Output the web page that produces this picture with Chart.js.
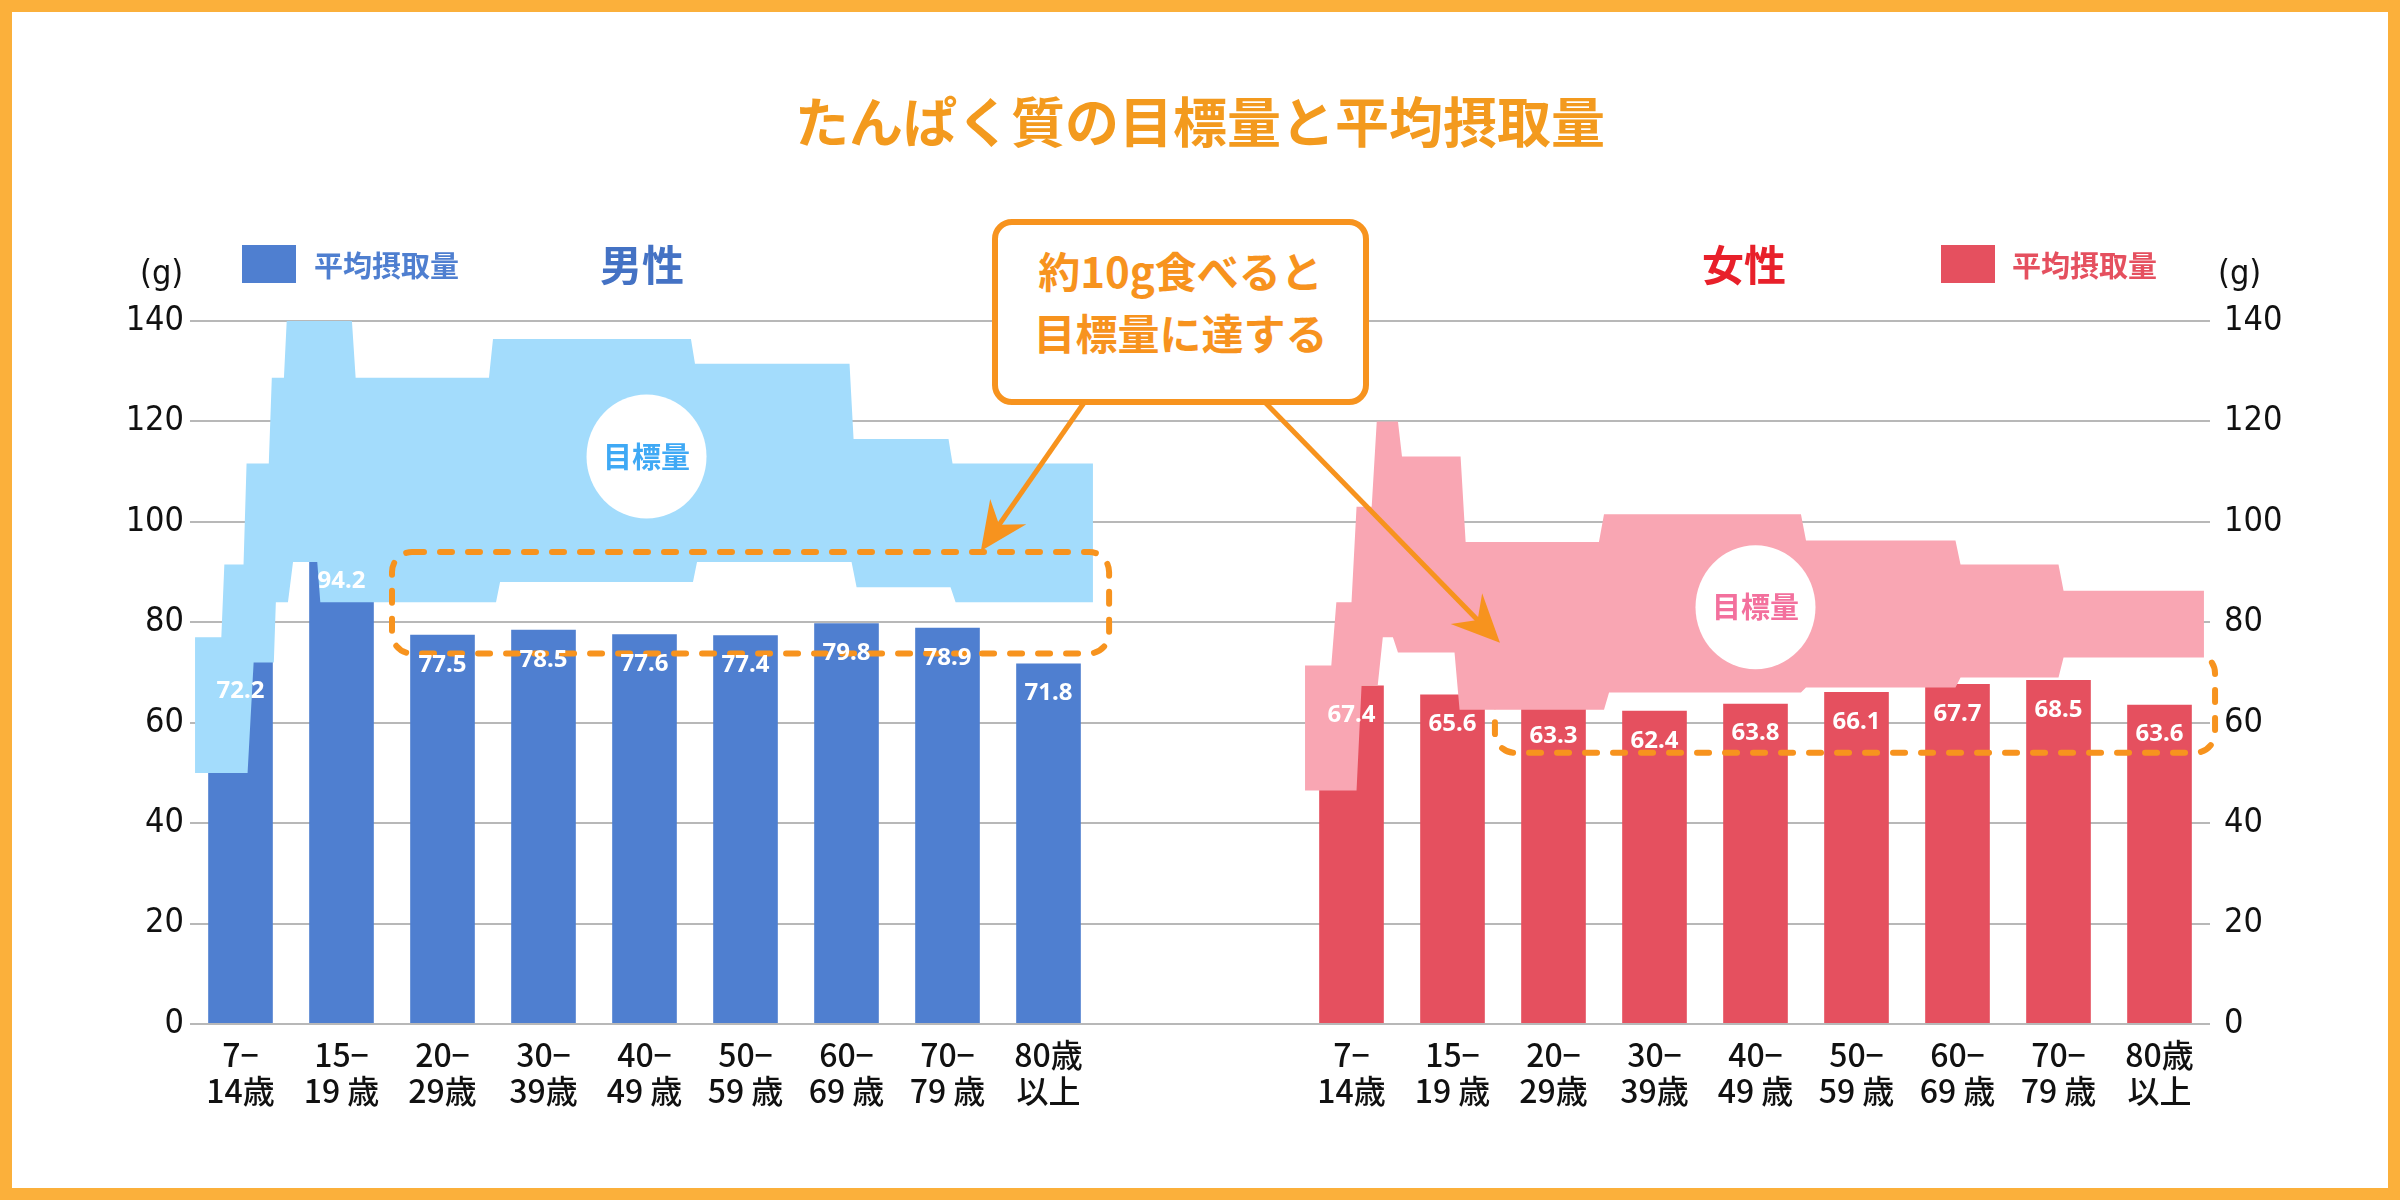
<!DOCTYPE html>
<html lang="ja">
<head>
<meta charset="UTF-8">
<title>たんぱく質の目標量と平均摂取量</title>
<script src="https://cdn.jsdelivr.net/npm/chart.js"></script>
<style>
  html, body { margin: 0; padding: 0; background: #fff; }
  body { width: 2400px; height: 1200px; position: relative; overflow: hidden;
         font-family: "Noto Sans CJK JP", "Noto Sans", sans-serif; }
  #frame { position: absolute; inset: 0; border: 12px solid #fbb03b; box-sizing: border-box; pointer-events: none; }
  canvas { position: absolute; left: 0; top: 0; }
  .t { position: absolute; white-space: nowrap; font-weight: 700; }
  #title { left: 0; width: 2400px; top: 80px; text-align: center; font-size: 54px; color: #f39a1e; }
  .unit { font-family: "DejaVu Sans Condensed", sans-serif; font-weight: 400; font-size: 34px; color: #111; top: 252px; }
  .sq { position: absolute; width: 54px; height: 38px; top: 245px; }
  .leg { font-size: 29px; top: 243px; }
  .sex { font-size: 42px; top: 232px; }
  #callout { position: absolute; left: 992px; top: 219px; width: 365px; height: 160px; border: 6px solid #f7931e;
             border-radius: 20px; background: #fff; color: #f7931e; font-weight: 700; font-size: 42px;
             text-align: center; line-height: 62px; padding-top: 14px; box-sizing: content-box; }
</style>
</head>
<body>
<canvas id="c" width="2400" height="1200"></canvas>
<div id="frame"></div>
<div class="t" id="title">たんぱく質の目標量と平均摂取量</div>
<div class="t unit" style="left:140px">(g)</div>
<div class="t unit" style="left:2218px">(g)</div>
<div class="sq" style="left:242px;background:#4f7fd0"></div>
<div class="t leg" style="left:314px;color:#4f7fd0">平均摂取量</div>
<div class="t sex" style="left:600px;color:#4472c4">男性</div>
<div class="t sex" style="left:1702px;color:#e8202a">女性</div>
<div class="sq" style="left:1941px;background:#e5505f"></div>
<div class="t leg" style="left:2012px;color:#e5505f">平均摂取量</div>
<div id="callout">約10g食べると<br>目標量に達する</div>
<script>
const ageLabels = [['7−','14歳'],['15−','19 歳'],['20−','29歳'],['30−','39歳'],['40−','49 歳'],
                   ['50−','59 歳'],['60−','69 歳'],['70−','79 歳'],['80歳','以上']];
const maleIntake   = [72.2, 94.2, 77.5, 78.5, 77.6, 77.4, 79.8, 78.9, 71.8];
const femaleIntake = [67.4, 65.6, 63.3, 62.4, 63.8, 66.1, 67.7, 68.5, 63.6];
const yTicks = [0, 20, 40, 60, 80, 100, 120, 140];

// target range steps: [from, to, value] in category units
const maleTop = [[-0.45,-0.19,77],[-0.16,0.03,91.5],[0.06,0.28,111.6],[0.31,0.43,128.7],[0.46,1.1,141],
                 [1.14,2.46,128.7],[2.5,4.46,136.4],[4.5,6.03,131.5],[6.07,7.01,116.5],[7.05,8.44,111.6]];
const maleBottom = [[-0.45,0.07,50],[0.13,0.33,72],[0.35,0.47,84],[0.52,0.76,92],[0.79,2.53,84],
                    [2.57,4.48,88],[4.52,6.05,92],[6.1,7.03,87],[7.08,8.44,84]];
const femaleTop = [[-0.46,-0.2,71.4],[-0.15,0,84],[0.05,0.2,103],[0.25,0.46,120],[0.5,1.08,113],
                   [1.13,2.45,96],[2.5,4.45,101.5],[4.5,5.98,96.3],[6.03,7.0,91.5],[7.05,8.44,86.3]];
const femaleBottom = [[-0.46,0.05,46.5],[0.1,0.26,67.5],[0.31,0.41,77],[0.46,1.02,74],[1.07,2.5,62.6],
                      [2.55,4.45,66],[4.5,5.98,67],[6.03,7.0,69],[7.05,8.44,73]];
const femaleOffset = 11;

const labels = [...ageLabels, '', '', ...ageLabels];
const maleBars = [...maleIntake, ...Array(11).fill(null)];
const femaleBars = [...Array(11).fill(null), ...femaleIntake];

function shape(top, bottom, off) {
  const pts = [];
  top.forEach(s => { pts.push({x: s[0] + off, y: s[2]}, {x: s[1] + off, y: s[2]}); });
  bottom.slice().reverse().forEach(s => { pts.push({x: s[1] + off, y: s[2]}, {x: s[0] + off, y: s[2]}); });
  return pts;
}

function roundBox(ctx, x1, y1, x2, y2, r) {
  ctx.beginPath();
  ctx.roundRect(x1, y1, x2 - x1, y2 - y1, r);
  ctx.stroke();
}

function arrow(ctx, x1, y1, x2, y2) {
  const a = Math.atan2(y2 - y1, x2 - x1), L = 48, W = 22;
  ctx.strokeStyle = ctx.fillStyle = '#f7931e';
  ctx.lineWidth = 5;
  ctx.beginPath();
  ctx.moveTo(x1, y1);
  ctx.lineTo(x2 - Math.cos(a) * 30, y2 - Math.sin(a) * 30);
  ctx.stroke();
  ctx.beginPath();
  ctx.moveTo(x2, y2);
  ctx.lineTo(x2 - L * Math.cos(a) + W * Math.sin(a), y2 - L * Math.sin(a) - W * Math.cos(a));
  ctx.lineTo(x2 - 32 * Math.cos(a), y2 - 32 * Math.sin(a));
  ctx.lineTo(x2 - L * Math.cos(a) - W * Math.sin(a), y2 - L * Math.sin(a) + W * Math.cos(a));
  ctx.closePath();
  ctx.fill();
}

const deco = {
  id: 'deco',
  beforeDatasetDraw(chart, args) {
    if (args.index < 2) return;
    const ctx = chart.ctx, xs = chart.scales.x2, ys = chart.scales.y;
    if (args.index === 2) {
      ctx.save();
      ctx.strokeStyle = '#f7931e';
      ctx.lineWidth = 6;
      ctx.lineCap = 'round';
      ctx.setLineDash([12, 16]);
      roundBox(ctx, xs.getPixelForValue(1.5), ys.getPixelForValue(94), xs.getPixelForValue(8.6), ys.getPixelForValue(73.8), 20);
      roundBox(ctx, xs.getPixelForValue(12.42), ys.getPixelForValue(73.8), xs.getPixelForValue(19.55), ys.getPixelForValue(54), 20);
      ctx.restore();
    }
    ctx.save();
    ctx.globalCompositeOperation = 'multiply';
  },
  afterDatasetDraw(chart, args) {
    if (args.index >= 2) chart.ctx.restore();
  },
  afterDatasetsDraw(chart) {
    const ctx = chart.ctx, xs = chart.scales.x2, ys = chart.scales.y;
    ctx.save();
    ctx.fillStyle = '#fff';
    ctx.font = '700 24px "Noto Sans", sans-serif';
    ctx.textAlign = 'center';
    ctx.textBaseline = 'middle';
    [0, 1].forEach(d => {
      chart.getDatasetMeta(d).data.forEach((bar, i) => {
        const v = chart.data.datasets[d].data[i];
        if (v == null) return;
        ctx.fillText(v.toFixed(1), bar.x, bar.y + 30);
      });
    });
    const circles = [[4.02, 113, '#3fa9f5'], [15.0, 83, '#f3709d']];
    circles.forEach(([u, v, col]) => {
      const cx = xs.getPixelForValue(u), cy = ys.getPixelForValue(v);
      ctx.fillStyle = '#fff';
      ctx.beginPath();
      ctx.ellipse(cx, cy, 60, 62, 0, 0, Math.PI * 2);
      ctx.fill();
      ctx.fillStyle = col;
      ctx.font = '700 29px "Noto Sans CJK JP", sans-serif';
      ctx.fillText('目標量', cx, cy);
    });
    arrow(ctx, 1095, 387, xs.getPixelForValue(7.33), ys.getPixelForValue(94.2));
    arrow(ctx, 1250, 387, xs.getPixelForValue(12.47), ys.getPixelForValue(75.9));
    ctx.restore();
  }
};

new Chart(document.getElementById('c'), {
  data: {
    labels,
    datasets: [
      { type: 'bar', data: maleBars, backgroundColor: '#4f7fd0', barPercentage: 0.64, categoryPercentage: 1, order: 3, skipNull: true, grouped: false },
      { type: 'bar', data: femaleBars, backgroundColor: '#e5505f', barPercentage: 0.64, categoryPercentage: 1, order: 3, skipNull: true, grouped: false },
      { type: 'line', xAxisID: 'x2', data: shape(maleTop, maleBottom, 0), fill: 'shape',
        backgroundColor: '#a3dcfc', borderWidth: 0, pointRadius: 0, tension: 0, order: 2 },
      { type: 'line', xAxisID: 'x2', data: shape(femaleTop, femaleBottom, femaleOffset), fill: 'shape',
        backgroundColor: '#f9a6b3', borderWidth: 0, pointRadius: 0, tension: 0, order: 1 }
    ]
  },
  options: {
    responsive: false,
    animation: false,
    devicePixelRatio: 1,
    layout: { padding: { top: 321, bottom: 0, left: 0, right: 0 } },
    plugins: { legend: { display: false }, tooltip: { enabled: false } },
    scales: {
      x: {
        grid: { display: false },
        border: { display: false },
        ticks: { color: '#111', font: { family: '"Noto Sans CJK JP"', size: 32, weight: 500, lineHeight: 1.15 },
                 maxRotation: 0, autoSkip: false, padding: 4 },
        afterFit: s => { s.height = 176; }
      },
      x2: { type: 'linear', min: -0.5, max: 19.5, display: false },
      y: {
        position: 'left', min: 0, max: 140,
        afterBuildTicks: s => { s.ticks = yTicks.map(v => ({ value: v })); },
        grid: { color: '#b8b8b8', lineWidth: 2, drawTicks: false },
        border: { display: false },
        ticks: { color: '#111', font: { family: '"DejaVu Sans Condensed"', size: 34 }, padding: 6 },
        afterFit: s => { s.width = 190; }
      },
      y2: {
        position: 'right', min: 0, max: 140,
        afterBuildTicks: s => { s.ticks = yTicks.map(v => ({ value: v })); },
        grid: { display: false },
        border: { display: false },
        ticks: { color: '#111', font: { family: '"DejaVu Sans Condensed"', size: 34 }, padding: 6 },
        afterFit: s => { s.width = 190; }
      }
    }
  },
  plugins: [deco]
});
</script>
</body>
</html>
